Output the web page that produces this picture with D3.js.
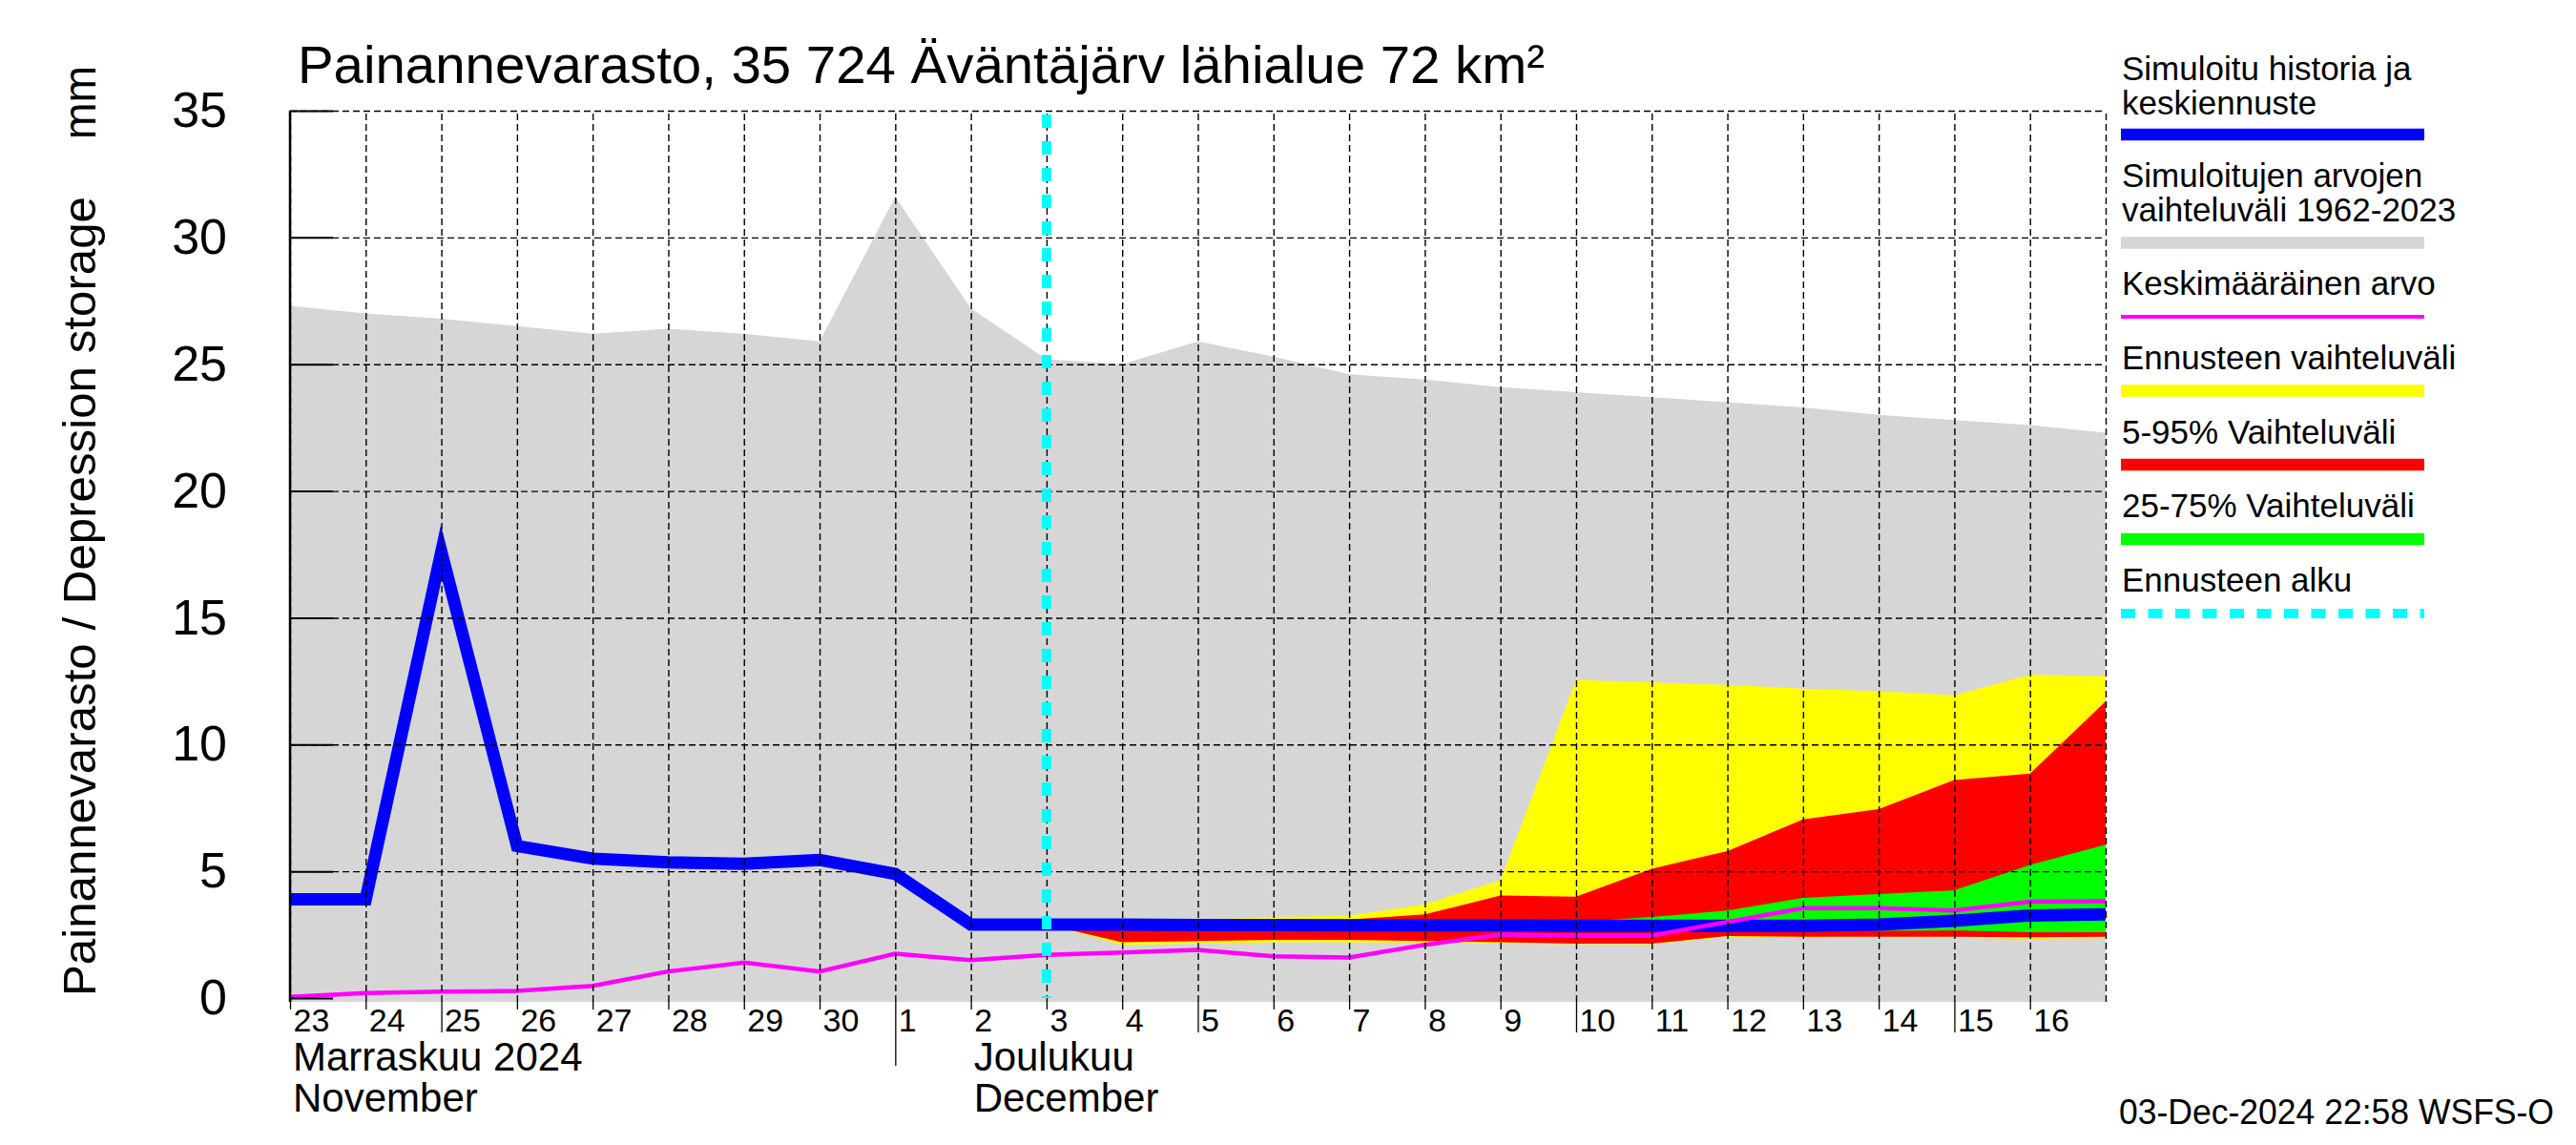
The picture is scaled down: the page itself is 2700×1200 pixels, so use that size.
<!DOCTYPE html>
<html><head><meta charset="utf-8">
<script src="https://cdn.jsdelivr.net/npm/d3@7/dist/d3.min.js"></script>
<style>
body{margin:0;background:#fff}
text{font-family:"Liberation Sans",Arial,Helvetica,sans-serif;fill:#000}
</style>
</head><body>
<svg id="chart" width="2700" height="1200"></svg>
<script>
// ---------------- DATA ----------------
const dates = ["2024-11-23","2024-11-24","2024-11-25","2024-11-26","2024-11-27","2024-11-28","2024-11-29","2024-11-30",
  "2024-12-01","2024-12-02","2024-12-03","2024-12-04","2024-12-05","2024-12-06","2024-12-07","2024-12-08","2024-12-09",
  "2024-12-10","2024-12-11","2024-12-12","2024-12-13","2024-12-14","2024-12-15","2024-12-16","2024-12-17"];
const histMax = [27.3,27.0,26.8,26.5,26.2,26.4,26.2,25.9,31.6,27.2,25.2,25.0,25.9,25.3,24.6,24.4,24.1,23.9,23.7,23.5,23.3,23.0,22.8,22.6,22.3];
const simulated = [3.9,3.9,17.6,6.0,5.5,5.35,5.3,5.45,4.9,2.9,2.9,2.9,2.88,2.88,2.87,2.87,2.87,2.85,2.85,2.85,2.85,2.9,3.05,3.26,3.3];
const meanValues = [0.05,0.2,0.25,0.28,0.48,1.05,1.4,1.05,1.75,1.5,1.7,1.8,1.9,1.65,1.6,2.1,2.5,2.47,2.47,3.0,3.55,3.55,3.45,3.8,3.82];

const fcDates = ["2024-12-03","2024-12-04","2024-12-05","2024-12-06","2024-12-07","2024-12-08","2024-12-09","2024-12-10",
  "2024-12-11","2024-12-12","2024-12-13","2024-12-14","2024-12-15","2024-12-16","2024-12-17"];
const fcMax = [2.95,3.1,3.1,3.2,3.25,3.7,4.65,12.55,12.45,12.35,12.2,12.1,11.95,12.75,12.7];
const fcP95 = [2.95,3.05,3.05,3.1,3.1,3.3,4.05,4.0,5.1,5.8,7.05,7.45,8.6,8.85,11.7];
const fcP75 = [2.9,2.95,2.95,2.95,2.95,2.95,2.95,3.0,3.2,3.45,3.95,4.1,4.25,5.25,6.05];
const fcP25 = [2.85,2.8,2.8,2.8,2.8,2.8,2.8,2.75,2.75,2.75,2.75,2.65,2.67,2.6,2.6];
const fcP5  = [2.9,2.2,2.25,2.3,2.3,2.25,2.2,2.15,2.15,2.45,2.42,2.42,2.42,2.4,2.42];
const fcMin = [2.9,2.1,2.15,2.2,2.2,2.18,2.15,2.13,2.12,2.42,2.4,2.38,2.38,2.33,2.36];

const forecastStart = "2024-12-03";
const yTicks = [0,5,10,15,20,25,30,35];
const dayTickDates = dates.slice(0, 24);
const dayLabels = ["23","24","25","26","27","28","29","30","1","2","3","4","5","6","7","8","9","10","11","12","13","14","15","16"];
const monthLabels = [["Marraskuu 2024","November"],["Joulukuu","December"]];
const monthLabelDates = ["2024-11-23","2024-12-02"];
const monthStart = "2024-12-01";

const titleText = "Painannevarasto, 35 724 Äväntäjärv lähialue 72 km²";
const yLabelText = "Painannevarasto / Depression storage";
const yUnitText = "mm";
const footerText = "03-Dec-2024 22:58 WSFS-O";

const legendLabels = [
  ["Simuloitu historia ja","keskiennuste"],
  ["Simuloitujen arvojen","vaihteluväli 1962-2023"],
  ["Keskimääräinen arvo"],
  ["Ennusteen vaihteluväli"],
  ["5-95% Vaihteluväli"],
  ["25-75% Vaihteluväli"],
  ["Ennusteen alku"]
];
const legendColors = ["#0000ff","#d6d6d6","#ff00ff","#ffff00","#ff0000","#00ff00","#00ffff"];

// ---------------- LAYOUT ----------------
const P = {left:304, right:2207, top:116, bottom:1050};
const parse = d3.utcParse("%Y-%m-%d");
const svg = d3.select("#chart");
svg.append("rect").attr("width",2700).attr("height",1200).attr("fill","#fff");

const x = d3.scaleUtc().domain([parse(dates[0]), parse(dates[dates.length-1])]).range([P.left, P.right]);
const y = d3.scaleLinear().domain([-0.15, 35]).range([P.bottom, P.top]);

svg.append("clipPath").attr("id","clip").append("rect")
  .attr("x",P.left).attr("y",P.top-10).attr("width",P.right-P.left).attr("height",P.bottom-P.top+10);
const plot = svg.append("g").attr("clip-path","url(#clip)");

const hist = dates.map((d,i)=>({date:parse(d), max:histMax[i], sim:simulated[i], mean:meanValues[i]}));
const fc = fcDates.map((d,i)=>({date:parse(d), min:fcMin[i], p5:fcP5[i], p25:fcP25[i], p75:fcP75[i], p95:fcP95[i], max:fcMax[i]}));

// gray historical range
plot.append("path").datum(hist)
  .attr("fill","#d6d6d6")
  .attr("d", d3.area().x(d=>x(d.date)).y0(y(-0.15)).y1(d=>y(d.max)));

// forecast bands
const band = (lo,hi,col)=>plot.append("path").datum(fc).attr("fill",col)
  .attr("d", d3.area().x(d=>x(d.date)).y0(d=>y(d[lo])).y1(d=>y(d[hi])));
band("min","max","#ffff00");
band("p5","p95","#ff0000");
band("p25","p75","#00ff00");

// grid
const gridY = svg.append("g").attr("transform",`translate(${P.left},0)`)
  .call(d3.axisLeft(y).tickValues(yTicks.filter(v=>v>0)).tickSize(-(P.right-P.left)).tickFormat(""));
gridY.select(".domain").remove();
gridY.selectAll("line").attr("stroke","#000").attr("stroke-width",1.4).attr("stroke-dasharray","7,4");

const gridX = svg.append("g").attr("transform",`translate(0,${P.bottom})`)
  .call(d3.axisBottom(x).tickValues(dates.map(parse)).tickSize(-(P.bottom-P.top)).tickFormat(""));
gridX.select(".domain").remove();
gridX.selectAll("line").attr("stroke","#000").attr("stroke-width",1.4).attr("stroke-dasharray","7,4");

// lines
plot.append("path").datum(hist)
  .attr("fill","none").attr("stroke","#0000ff").attr("stroke-width",13)
  .attr("stroke-linejoin","miter").attr("stroke-miterlimit",10)
  .attr("d", d3.line().x(d=>x(d.date)).y(d=>y(d.sim)));
plot.append("path").datum(hist)
  .attr("fill","none").attr("stroke","#ff00ff").attr("stroke-width",4.5)
  .attr("d", d3.line().x(d=>x(d.date)).y(d=>y(d.mean)));

// forecast start
svg.append("line")
  .attr("x1",x(parse(forecastStart))).attr("x2",x(parse(forecastStart)))
  .attr("y1",y(35)+4).attr("y2",y(0))
  .attr("stroke","#00ffff").attr("stroke-width",10).attr("stroke-dasharray","14,14");

// left axis
const axY = svg.append("g").attr("transform",`translate(${P.left},0)`)
  .call(d3.axisLeft(y).tickValues(yTicks).tickSizeInner(-45).tickSizeOuter(0).tickPadding(66));
axY.select(".domain").remove();
axY.selectAll("line").attr("stroke","#000").attr("stroke-width",2);
axY.selectAll("text").attr("font-size",52).attr("font-family","Liberation Sans, Arial, sans-serif").attr("fill","#000");
svg.append("line").attr("x1",P.left).attr("x2",P.left).attr("y1",P.top).attr("y2",P.bottom)
  .attr("stroke","#000").attr("stroke-width",2.5);

// bottom axis ticks and labels
const axX = svg.append("g").attr("transform",`translate(0,${P.bottom})`)
  .call(d3.axisBottom(x).tickValues(dayTickDates.map(parse)).tickSize(8)
    .tickFormat((d,i)=>dayLabels[i]));
axX.select(".domain").remove();
axX.selectAll("line").attr("stroke","#000").attr("stroke-width",1.3)
  .attr("y2",(d)=>{
    const day = d.getUTCDate();
    if (+d === +parse(monthStart)) return 67;
    if (day % 5 === 0 && day !== 30) return 32;
    return 8;
  });
axX.selectAll("text").attr("font-size",34).attr("text-anchor","start")
  .attr("x",3).attr("y",31).attr("dy",0).attr("fill","#000")
  .attr("font-family","Liberation Sans, Arial, sans-serif");

// month labels
monthLabels.forEach((lines,i)=>{
  const mx = x(parse(monthLabelDates[i])) + 3;
  lines.forEach((t,j)=>{
    svg.append("text").attr("x",mx).attr("y",1122 + j*43).attr("font-size",42).text(t);
  });
});

// title
svg.append("text").attr("x",312).attr("y",87).attr("font-size",56)
  .attr("textLength",1307).attr("lengthAdjust","spacingAndGlyphs").text(titleText);

// y label
svg.append("text").attr("transform","translate(100,1044) rotate(-90)").attr("font-size",49)
  .attr("textLength",838).attr("lengthAdjust","spacingAndGlyphs").text(yLabelText);
svg.append("text").attr("transform","translate(100,146) rotate(-90)").attr("font-size",49)
  .attr("textLength",77).attr("lengthAdjust","spacingAndGlyphs").text(yUnitText);

// legend
const legTextY = [[84,120],[196,232],[309],[387],[465],[542],[620]];
const legLineY = [141,254.5,332,409.5,487,565,643];
const legLineW = [12.5,12.5,4,12.5,12.5,12.5,10];
legendLabels.forEach((lines,i)=>{
  lines.forEach((t,j)=>{
    svg.append("text").attr("x",2224).attr("y",legTextY[i][j]).attr("font-size",35).text(t);
  });
  const ln = svg.append("line").attr("x1",2223).attr("x2",2541)
    .attr("y1",legLineY[i]).attr("y2",legLineY[i])
    .attr("stroke",legendColors[i]).attr("stroke-width",legLineW[i]);
  if (i===6) ln.attr("stroke-dasharray","15,13.5");
});

// footer
svg.append("text").attr("x",2221).attr("y",1178).attr("font-size",37)
  .attr("textLength",456).attr("lengthAdjust","spacingAndGlyphs").text(footerText);
</script>
</body></html>
